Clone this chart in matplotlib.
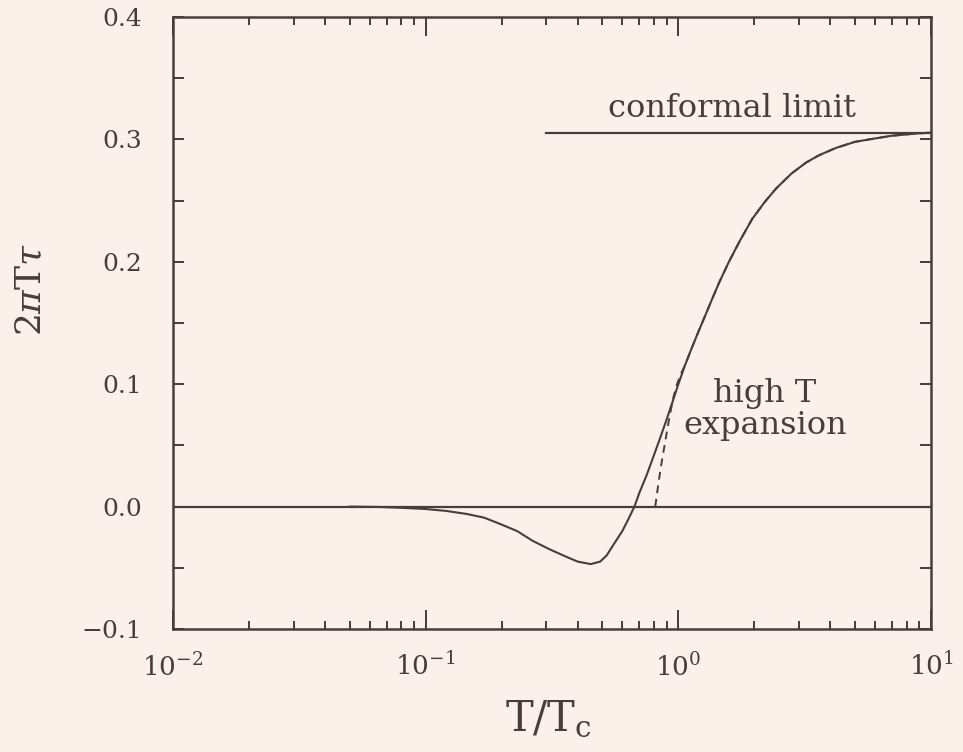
import numpy as np
import matplotlib
matplotlib.use("Agg")
import matplotlib.pyplot as plt
from matplotlib.ticker import MultipleLocator, LogLocator, NullFormatter

plt.rcParams['font.family'] = ['DejaVu Serif']
plt.rcParams['mathtext.fontset'] = 'dejavuserif'

# full curve, 2 pi T tau vs T/Tc
t_full = [0.05, 0.065, 0.08, 0.10, 0.12, 0.145, 0.17, 0.196, 0.23, 0.265,
          0.31, 0.36, 0.40, 0.45, 0.49, 0.52, 0.55, 0.60, 0.635, 0.67,
          0.70, 0.75, 0.794, 0.84, 0.891, 0.95, 1.0, 1.06, 1.122, 1.19,
          1.259, 1.35, 1.45, 1.585, 1.75, 1.96, 2.2, 2.44, 2.8, 3.2,
          3.6, 4.2, 5.0, 5.7, 7.0, 9.0, 10.0]
y_full = [0.0, -0.0003, -0.001, -0.002, -0.0035, -0.006, -0.009, -0.014, -0.020, -0.028,
          -0.035, -0.041, -0.045, -0.047, -0.045, -0.040, -0.032, -0.020, -0.010, 0.0,
          0.011, 0.026, 0.040, 0.054, 0.069, 0.086, 0.100, 0.115, 0.128, 0.141,
          0.153, 0.168, 0.183, 0.200, 0.217, 0.235, 0.249, 0.260, 0.272, 0.281,
          0.287, 0.293, 0.298, 0.300, 0.303, 0.305, 0.3055]

# high T expansion (dashed)
t_high = [0.81, 0.835, 0.86, 0.89, 0.92, 0.95, 0.98, 1.02, 1.06, 1.122,
          1.19, 1.259, 1.35, 1.45, 1.585, 1.75, 1.96, 2.2, 2.44, 2.8,
          3.2, 3.6, 4.2, 5.0, 5.7, 7.0, 9.0, 10.0]
y_high = [0.0, 0.020, 0.037, 0.055, 0.072, 0.087, 0.098, 0.108, 0.115, 0.128,
          0.141, 0.153, 0.168, 0.183, 0.200, 0.217, 0.235, 0.249, 0.260, 0.272,
          0.281, 0.287, 0.293, 0.298, 0.300, 0.303, 0.305, 0.3055]

conformal_t = [0.30, 10.0]
conformal_y = 0.3055

xticks = [1e-2, 1e-1, 1e0, 1e1]
xtick_labels = [r'$10^{-2}$', r'$10^{-1}$', r'$10^{0}$', r'$10^{1}$']
yticks = [-0.1, 0.0, 0.1, 0.2, 0.3, 0.4]
ytick_labels = ['\u22120.1', '0.0', '0.1', '0.2', '0.3', '0.4']

bg = '#fcf1ea'
ink = '#4a3c3c'

fig = plt.figure(figsize=(9.63, 7.52), dpi=100, facecolor=bg)
ax = fig.add_axes([0.1797, 0.1636, 0.7871, 0.8138])
ax.set_facecolor(bg)

ax.axhline(0.0, color=ink, lw=1.6)
ax.plot(conformal_t, [conformal_y, conformal_y], color=ink, lw=1.6)
ax.plot(t_full, y_full, color=ink, lw=1.5)
ax.plot(t_high, y_high, color=ink, lw=1.4, linestyle=(0, (4, 3)))

ax.set_xscale('log')
ax.set_xlim(1e-2, 1e1)
ax.set_ylim(-0.1, 0.4)

ax.set_xticks(xticks)
ax.set_xticklabels(xtick_labels)
ax.xaxis.set_minor_locator(LogLocator(base=10, subs=np.arange(2, 10)))
ax.xaxis.set_minor_formatter(NullFormatter())
ax.set_yticks(yticks)
ax.set_yticklabels(ytick_labels)
ax.yaxis.set_minor_locator(MultipleLocator(0.05))

ax.tick_params(which='both', direction='in', top=True, right=True,
               color=ink, width=1.4, labelcolor=ink)
ax.tick_params(axis='x', which='major', length=14, pad=17, labelsize=19)
ax.tick_params(axis='x', which='minor', length=6)
ax.tick_params(axis='y', which='both', length=8)
ax.tick_params(axis='y', which='major', pad=22, labelsize=18)

for s in ax.spines.values():
    s.set_color(ink)
    s.set_linewidth(1.8)

ax.set_xlabel(r'$\mathrm{T/T_c}$', fontsize=30, color=ink)
ax.xaxis.set_label_coords(0.495, -0.112)
ax.set_ylabel(r'$2\pi\mathrm{T}\tau$', fontsize=26, color=ink)
ax.yaxis.set_label_coords(-0.165, 0.555)

ax.text(1.63, 0.318, 'conformal limit', fontsize=23, color=ink,
        ha='center', va='baseline')
ax.text(2.2, 0.0855, 'high T', fontsize=23, color=ink,
        ha='center', va='baseline')
ax.text(2.2, 0.0594, 'expansion', fontsize=23, color=ink,
        ha='center', va='baseline')

fig.savefig('out.png', dpi=100, facecolor=bg)
